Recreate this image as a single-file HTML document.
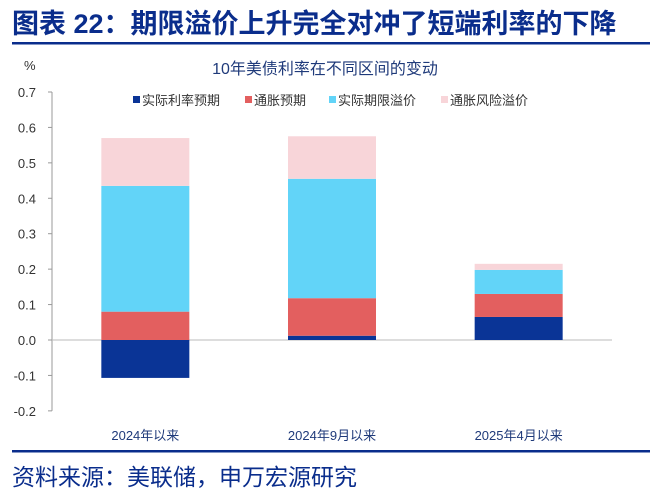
<!DOCTYPE html>
<html><head><meta charset="utf-8"><style>
body{margin:0;background:#fff;width:667px;height:498px;overflow:hidden;font-family:"Liberation Sans","Noto Sans CJK SC",sans-serif}
</style></head><body>
<svg id="c" width="667" height="498" xmlns="http://www.w3.org/2000/svg">
<text x="12" y="33" font-size="27" font-weight="bold" fill="#0a2d8c" font-family="Liberation Sans,Noto Sans CJK SC,sans-serif">图表 22：期限溢价上升完全对冲了短端利率的下降</text>
<rect x="12" y="42" width="638" height="2.5" fill="#0a2d8c"/>
<text x="24" y="70" font-size="13" fill="#333">%</text>
<text x="325" y="74" font-size="16" fill="#1f3a7a" text-anchor="middle">10年美债利率在不同区间的变动</text>
<g id="legend"></g>
<g id="axes"></g>
<g id="bars"></g>
<rect x="12" y="450" width="638" height="2.5" fill="#0a2d8c"/>
<text x="12" y="485" font-size="23" fill="#0a2d8c">资料来源：美联储，申万宏源研究</text>
</svg>
<script>
const categories=["2024年以来","2024年9月以来","2025年4月以来"];
const realRate=[-0.107,0.012,0.065];
const inflation=[0.08,0.106,0.065];
const termPremium=[0.355,0.337,0.068];
const inflRisk=[0.135,0.12,0.017];
const yTicks=[-0.2,-0.1,0,0.1,0.2,0.3,0.4,0.5,0.6,0.7];
const seriesNames=["实际利率预期","通胀预期","实际期限溢价","通胀风险溢价"];
const colors=["#0a3496","#e35f5f","#62d4f8","#f8d5d9"];
const NS="http://www.w3.org/2000/svg";
const y=v=>340-v*354.3;
const x0=52,plotW=560,bw=88;
const cx=i=>x0+plotW/6*(2*i+1);
function mk(t,a,p){const e=document.createElementNS(NS,t);for(const k in a)e.setAttribute(k,a[k]);(p||document.getElementById('c')).appendChild(e);return e;}
const axes=document.getElementById('axes');
const ax=mk('line',{x1:x0,x2:x0,y1:y(0.7),y2:y(-0.2),stroke:'#999'},axes);


yTicks.forEach(v=>{
 const t=mk('line',{x1:x0-4,x2:x0,y1:y(v),y2:y(v),stroke:'#999'},axes);
 
 
 const l=mk('text',{x:x0-16,y:y(v)+5,'font-size':13,fill:'#333','text-anchor':'end'},axes);
 l.textContent=v.toFixed(1);
 
 
});
const bars=document.getElementById('bars');
const series=[realRate,inflation,termPremium,inflRisk];
categories.forEach((c,i)=>{
 let pos=0,neg=0;
 series.forEach((s,k)=>{
  const v=s[i];let a,b;
  if(v>=0){a=pos;b=pos+v;pos=b;}else{a=neg;b=neg+v;neg=b;}
  const r=mk('rect',{x:cx(i)-bw/2,y:Math.min(y(a),y(b)),width:bw,height:Math.abs(y(a)-y(b)),fill:colors[k]},bars);
  
  
 });
 const l=mk('text',{x:cx(i),y:440,'font-size':13,fill:'#1f3a7a','text-anchor':'middle'},bars);
 l.textContent=c;
 
 
});
const zl=mk('line',{x1:x0,x2:612,y1:y(0),y2:y(0),stroke:'#bbb'},axes);


const lg=document.getElementById('legend');
const lx=[133,245,329,441];
seriesNames.forEach((n,k)=>{
 const r=mk('rect',{x:lx[k],y:96,width:7,height:7,fill:colors[k]},lg);
 
 
 const t=mk('text',{x:lx[k]+9,y:105,'font-size':13,fill:'#333'},lg);
 t.textContent=n;
 
 
});
</script>
</body></html>
